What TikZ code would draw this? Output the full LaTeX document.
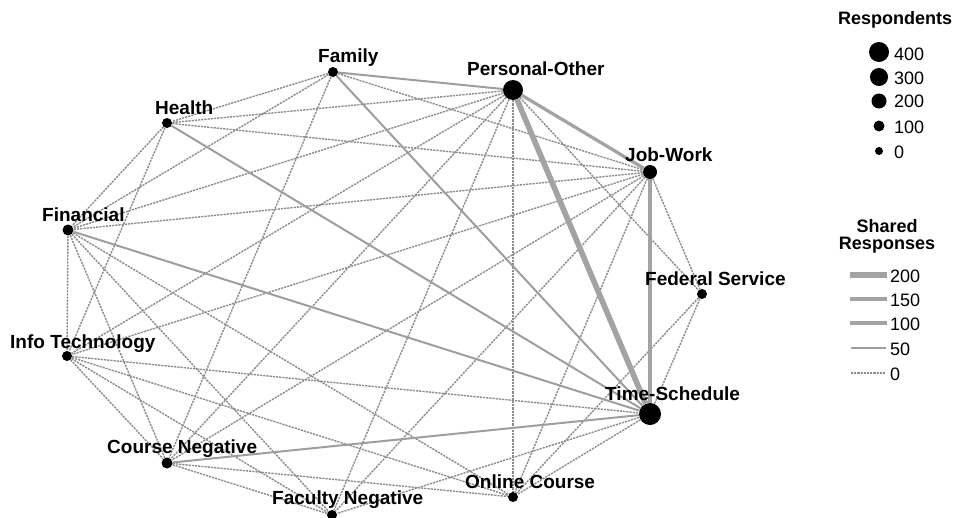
\documentclass[tikz,border=0pt]{standalone}
\usepackage{fontspec}
\setmainfont{Liberation Sans}
\usepackage{tikz}

\tikzset{
  resp/.style={circle,fill=black,inner sep=0pt},
  lbl/.style={anchor=base west,inner sep=0pt,font=\fontsize{19}{21}\selectfont\bfseries},
  keytitle/.style={anchor=base,inner sep=0pt,font=\fontsize{18}{20}\selectfont\bfseries},
  keytxt/.style={anchor=west,inner sep=0pt,font=\fontsize{18}{20}\selectfont},
  share0/.style={black!45,line width=1.4pt,dash pattern=on 2.2pt off 1pt},
  share50/.style={black!38,line width=2pt},
  share100/.style={black!36,line width=3.3pt},
  share150/.style={black!36,line width=4.4pt},
  share200/.style={black!36,line width=5.6pt}
}

\begin{document}
\begin{tikzpicture}[x=1pt,y=-1pt]
\useasboundingbox (0,0) rectangle (960,517);
% respondents
\draw (333,72) node[resp,minimum size=10pt] (Family) {};
\draw (513,90) node[resp,minimum size=20pt] (Personal) {};
\draw (167,123) node[resp,minimum size=10pt] (Health) {};
\draw (650,172) node[resp,minimum size=14pt] (JobWork) {};
\draw (68,230) node[resp,minimum size=11pt] (Financial) {};
\draw (702,294) node[resp,minimum size=10pt] (Federal) {};
\draw (67,356) node[resp,minimum size=10pt] (InfoTech) {};
\draw (650,414) node[resp,minimum size=22pt] (TimeSched) {};
\draw (167,463) node[resp,minimum size=11pt] (CourseNeg) {};
\draw (513,497) node[resp,minimum size=10pt] (Online) {};
\draw (332,515) node[resp,minimum size=10pt] (FacultyNeg) {};

% no shared responses
\draw[share0] (Family) -- (Health);
\draw[share0] (Family) -- (Financial);
\draw[share0] (Family) -- (CourseNeg);
\draw[share0] (Family) -- (JobWork);
\draw[share0] (Personal) -- (Health);
\draw[share0] (Personal) -- (Financial);
\draw[share0] (Personal) -- (InfoTech);
\draw[share0] (Personal) -- (CourseNeg);
\draw[share0] (Personal) -- (FacultyNeg);
\draw[share0] (Personal) -- (Online);
\draw[share0] (Personal) -- (Federal);
\draw[share0] (Health) -- (JobWork);
\draw[share0] (Health) -- (Financial);
\draw[share0] (Health) -- (InfoTech);
\draw[share0] (JobWork) -- (Financial);
\draw[share0] (JobWork) -- (InfoTech);
\draw[share0] (JobWork) -- (CourseNeg);
\draw[share0] (JobWork) -- (FacultyNeg);
\draw[share0] (JobWork) -- (Online);
\draw[share0] (JobWork) -- (Federal);
\draw[share0] (Financial) -- (InfoTech);
\draw[share0] (Financial) -- (CourseNeg);
\draw[share0] (Financial) -- (FacultyNeg);
\draw[share0] (Financial) -- (Online);
\draw[share0] (Federal) -- (TimeSched);
\draw[share0] (Federal) -- (Online);
\draw[share0] (InfoTech) -- (TimeSched);
\draw[share0] (InfoTech) -- (CourseNeg);
\draw[share0] (InfoTech) -- (FacultyNeg);
\draw[share0] (InfoTech) -- (Online);
\draw[share0] (TimeSched) -- (FacultyNeg);
\draw[share0] (TimeSched) -- (Online);
\draw[share0] (CourseNeg) -- (Online);
\draw[share0] (CourseNeg) -- (FacultyNeg);

% shared responses
\draw[share50] (Family) -- (Personal);
\draw[share50] (Family) -- (TimeSched);
\draw[share50] (Health) -- (TimeSched);
\draw[share50] (Financial) -- (TimeSched);
\draw[share50] (CourseNeg) -- (TimeSched);
\draw[share100] (Personal) -- (JobWork);
\draw[share100] (JobWork) -- (TimeSched);
\draw[share200] (Personal) -- (TimeSched);

% labels
\draw (318,62) node[lbl] (FamilyLbl) {Family};
\draw (467,75.5) node[lbl] (PersonalLbl) {Personal-Other};
\draw (155,114.5) node[lbl] (HealthLbl) {Health};
\draw (625,161.5) node[lbl] (JobWorkLbl) {Job-Work};
\draw (42,221.5) node[lbl] (FinancialLbl) {Financial};
\draw (645,285.5) node[lbl] (FederalLbl) {Federal Service};
\draw (10,348.5) node[lbl] (InfoTechLbl) {Info Technology};
\draw (605,400.5) node[lbl] (TimeSchedLbl) {Time-Schedule};
\draw (107,453.5) node[lbl] (CourseNegLbl) {Course Negative};
\draw (465,488.5) node[lbl] (OnlineLbl) {Online Course};
\draw (272,504.5) node[lbl] (FacultyNegLbl) {Faculty Negative};

% key: respondents
\draw (895,24.5) node[keytitle] (RespTitle) {Respondents};
\draw (879,52) node[resp,minimum size=20pt] (Resp400) {};
\draw (879,77) node[resp,minimum size=18pt] (Resp300) {};
\draw (879,101) node[resp,minimum size=15pt] (Resp200) {};
\draw (879,126) node[resp,minimum size=11pt] (Resp100) {};
\draw (879,151) node[resp,minimum size=8pt] (Resp0) {};
\draw (894,54) node[keytxt] (Resp400Txt) {400};
\draw (894,78) node[keytxt] (Resp300Txt) {300};
\draw (894,101) node[keytxt] (Resp200Txt) {200};
\draw (894,127) node[keytxt] (Resp100Txt) {100};
\draw (894,152) node[keytxt] (Resp0Txt) {0};

% key: shared responses
\draw (887,232) node[keytitle] (ShareTitleA) {Shared};
\draw (887,249) node[keytitle] (ShareTitleB) {Responses};
\coordinate (Sw200a) at (850,275); \coordinate (Sw200b) at (887,275);
\coordinate (Sw150a) at (850,299); \coordinate (Sw150b) at (887,299);
\coordinate (Sw100a) at (850,323); \coordinate (Sw100b) at (887,323);
\coordinate (Sw50a) at (851,348); \coordinate (Sw50b) at (886,348);
\coordinate (Sw0a) at (851,373); \coordinate (Sw0b) at (886,373);
\draw[share200] (Sw200a) -- (Sw200b);
\draw[share150] (Sw150a) -- (Sw150b);
\draw[share100] (Sw100a) -- (Sw100b);
\draw[share50] (Sw50a) -- (Sw50b);
\draw[share0] (Sw0a) -- (Sw0b);
\draw (890,276) node[keytxt] (Sw200Txt) {200};
\draw (890,300) node[keytxt] (Sw150Txt) {150};
\draw (890,324) node[keytxt] (Sw100Txt) {100};
\draw (890,349) node[keytxt] (Sw50Txt) {50};
\draw (890,374) node[keytxt] (Sw0Txt) {0};
\end{tikzpicture}
\end{document}
